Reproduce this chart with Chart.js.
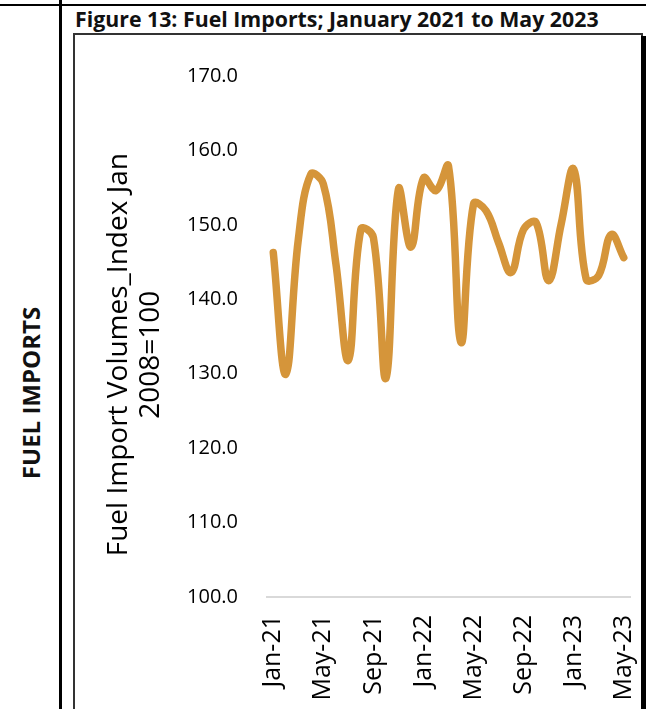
<!DOCTYPE html>
<html>
<head>
<meta charset="utf-8">
<script src="https://cdn.jsdelivr.net/npm/chart.js@4"></script>
<style>
  body { margin: 0; background: #fff; font-family: "Open Sans", sans-serif; }
  #page { position: relative; width: 646px; height: 709px; overflow: hidden; }
  .rule { position: absolute; background: #000; }
  #title { position: absolute; left: 75px; top: 4px; font-weight: bold; font-size: 21.3px; line-height: 1.362; color: #111; white-space: nowrap; }
  #side { position: absolute; left: 30px; top: 393px; transform: translate(-50%, -50%) rotate(-90deg); font-weight: bold; font-size: 24px; white-space: nowrap; color: #111; }
  #box { position: absolute; left: 73px; top: 33px; width: 566px; height: 700px; border: 2px solid #333; }
  #chart { position: absolute; left: 75px; top: 35px; }
</style>
</head>
<body>
<div id="page">
  <div class="rule" style="left:0;top:4px;width:646px;height:2px"></div>
  <div class="rule" style="left:59px;top:0;width:3px;height:709px"></div>
  <div id="title">Figure 13: Fuel Imports; January 2021 to May 2023</div>
  <div id="side">FUEL IMPORTS</div>
  <div id="box"></div>
  <div class="rule" style="left:641px;top:36px;width:5px;height:673px"></div>
  <canvas id="chart" width="565" height="674"></canvas>
</div>
<script>
const months = [
  "Jan-21", "Feb-21", "Mar-21", "Apr-21", "May-21", "Jun-21", "Jul-21", "Aug-21", "Sep-21", "Oct-21", "Nov-21", "Dec-21",
  "Jan-22", "Feb-22", "Mar-22", "Apr-22", "May-22", "Jun-22", "Jul-22", "Aug-22", "Sep-22", "Oct-22", "Nov-22", "Dec-22",
  "Jan-23", "Feb-23", "Mar-23", "Apr-23", "May-23"
];
const fuelIndex = [
  146.3, 129.9, 148.0, 156.8, 155.5, 144.8, 131.8, 149.4, 148.3, 129.4, 154.8, 147.0,
  156.3, 154.6, 157.9, 134.2, 152.8, 151.9, 147.6, 143.6, 149.4, 150.3, 142.5, 150.1,
  157.5, 142.7, 143.2, 148.7, 145.6
];
// trailing no-break spaces nudge the rotated title down to where the original sits
const yTitle = ["Fuel Import Volumes_Index Jan\u00a0\u00a0\u00a0\u00a0\u00a0", "2008=100\u00a0\u00a0\u00a0\u00a0\u00a0"];

const ctx = document.getElementById("chart");
new Chart(ctx, {
  type: "line",
  data: {
    labels: months,
    datasets: [{
      data: fuelIndex,
      borderColor: "#D5953A",
      borderWidth: 7.5,
      tension: 0.4,
      pointRadius: 0,
      borderCapStyle: "round",
      borderJoinStyle: "round",
      fill: false
    }]
  },
  options: {
    responsive: false,
    animation: false,
    devicePixelRatio: 1,
    layout: { padding: { top: 40, right: 10, left: 0, bottom: 0 } },
    plugins: { legend: { display: false }, tooltip: { enabled: false } },
    scales: {
      x: {
        offset: true,
        grid: { display: false, drawTicks: false },
        border: { display: true, color: "#D9D9D9", width: 2 },
        afterFit: s => { s.height = 112; s.paddingLeft = 0; s.paddingRight = 0; },
        ticks: {
          autoSkip: false,
          maxRotation: 90,
          minRotation: 90,
          padding: 18,
          color: "#000",
          font: { family: "Open Sans", size: 25 },
          callback: (v, i) => (i % 4 === 0 ? months[i] : null)
        }
      },
      y: {
        min: 100,
        max: 170,
        grid: { display: false, drawTicks: false },
        border: { display: false },
        afterFit: s => { s.width = 192; },
        ticks: {
          stepSize: 10,
          padding: 29,
          color: "#000",
          font: { family: "Open Sans", size: 20 },
          callback: v => v.toFixed(1)
        },
        title: {
          display: true,
          text: yTitle,
          color: "#000",
          font: { family: "Open Sans", size: 28, lineHeight: 1.15 },
          padding: { top: 28, bottom: 0 }
        }
      }
    }
  }
});
</script>
</body>
</html>
